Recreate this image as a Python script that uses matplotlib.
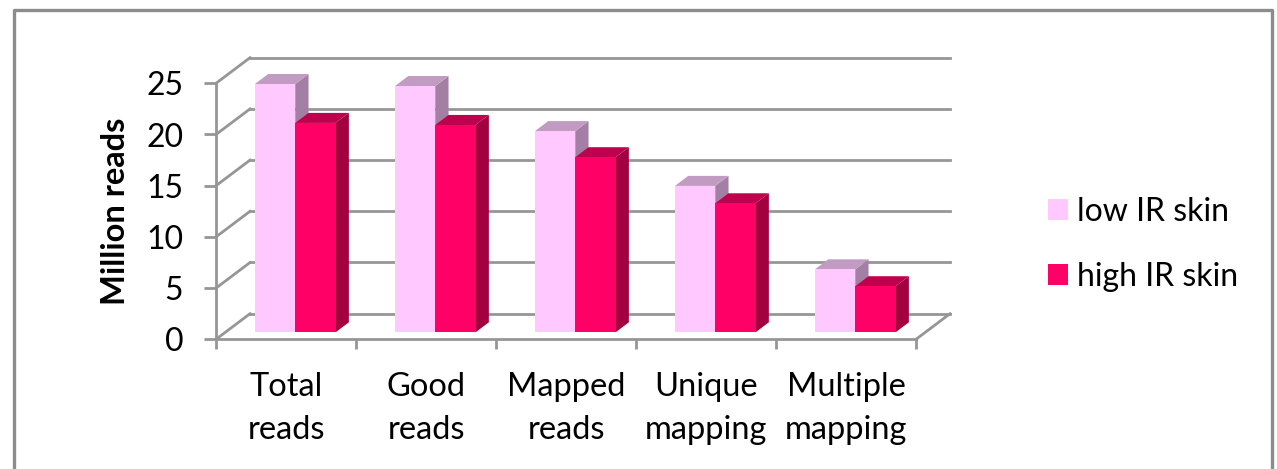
#bar chart of read counts, drawn with a fake 3d look

import matplotlib
matplotlib.use("Agg")
import matplotlib.pyplot as plt
from matplotlib.lines import Line2D
from matplotlib.patches import Patch, Polygon

categories = ["Total\nreads", "Good\nreads", "Mapped\nreads", "Unique\nmapping", "Multiple\nmapping"]
series_names = ["low IR skin", "high IR skin"]
low_ir = [24.25, 24.05, 19.65, 14.3, 6.15]
high_ir = [20.45, 20.25, 17.1, 12.6, 4.5]
y_ticks = [0, 5, 10, 15, 20, 25]

W, H = 1277, 469
GRAY = "#969696"
LW = 2.0
# front, top and side face colours for each series
low_colors = ("#FFC9FF", "#C29BC2", "#A380A3")
high_colors = ("#FF0066", "#BF004C", "#A3003F")

plt.rcParams['font.family'] = ['Lato', 'DejaVu Sans']

fig = plt.figure(figsize=(W / 100, H / 100), dpi=100, facecolor="white")
ax = fig.add_axes([216 / W, 1 - 339.3 / H, 700 / W, 256 / H])
ax.set_xlim(0, len(categories))
ax.set_ylim(0, 25)
ax.patch.set_visible(False)

# depth of the wall and of the bars, in data units
wall_dx, wall_dy = 0.243, 2.5
bar_dx, bar_dy = 0.095, 0.98
base_dx, base_dy = 0.068, 0.68
bar_w = 0.288

# walls and floor
for v in y_ticks:
	ax.plot([0, wall_dx], [v, v + wall_dy], color=GRAY, lw=LW, clip_on=False, zorder=1)
	ax.plot([wall_dx, len(categories) + wall_dx], [v + wall_dy, v + wall_dy], color=GRAY, lw=LW, clip_on=False, zorder=1)
ax.plot([len(categories), len(categories) + wall_dx], [0, wall_dy], color=GRAY, lw=LW, clip_on=False, zorder=1)


def draw_bar(x, v, colors, z):
	x0 = x + base_dx
	x1 = x0 + bar_w
	y0 = base_dy
	y1 = base_dy + v
	front = [(x0, y0), (x1, y0), (x1, y1), (x0, y1)]
	top = [(x0, y1), (x1, y1), (x1 + bar_dx, y1 + bar_dy), (x0 + bar_dx, y1 + bar_dy)]
	side = [(x1, y0), (x1 + bar_dx, y0 + bar_dy), (x1 + bar_dx, y1 + bar_dy), (x1, y1)]
	for pts, c in zip([side, top, front], [colors[2], colors[1], colors[0]]):
		ax.add_patch(Polygon(pts, closed=True, facecolor=c, edgecolor="none", clip_on=False, zorder=z))


for i in range(len(categories)):
	x = i + 0.5 - bar_w - 0.002
	draw_bar(x, low_ir[i], low_colors, 3)
	draw_bar(x + bar_w, high_ir[i], high_colors, 4)

for s in ["top", "right"]:
	ax.spines[s].set_visible(False)
for s in ["left", "bottom"]:
	ax.spines[s].set_color(GRAY)
	ax.spines[s].set_linewidth(LW)
	ax.spines[s].set_zorder(2)

ax.set_yticks(y_ticks)
ax.tick_params(axis="y", length=8.5, width=LW, color=GRAY, pad=15, labelsize=23, labelcolor="black")
ax.set_xticks(range(len(categories) + 1))
ax.set_xticklabels([])
ax.set_xticks([i + 0.5 for i in range(len(categories))], categories, minor=True, linespacing=1.53, fontsize=23.5)
ax.tick_params(axis="x", which="major", length=7.5, width=LW, color=GRAY)
ax.tick_params(axis="x", which="minor", length=0, pad=23.5)

ax.set_ylabel("Million reads", fontsize=23.5, fontweight="bold", labelpad=11.5)

handles = [Patch(facecolor=low_colors[0]), Patch(facecolor=high_colors[0])]
fig.legend(handles, series_names, loc="upper left", bbox_to_anchor=(1048 / W, 1 - 197 / H), frameon=False,
	fontsize=23, handlelength=0.63, handleheight=0.63, handletextpad=0.28, labelspacing=1.08, borderpad=0, borderaxespad=0)

# outer chart frame, runs off the bottom of the image
fig.add_artist(Line2D([13.5 / W, 13.5 / W, 1271.5 / W, 1271.5 / W], [0, 1 - 10.5 / H, 1 - 10.5 / H, 0],
	color="#8C8C8C", lw=2.4, transform=fig.transFigure))

fig.savefig("out.png", dpi=100)
